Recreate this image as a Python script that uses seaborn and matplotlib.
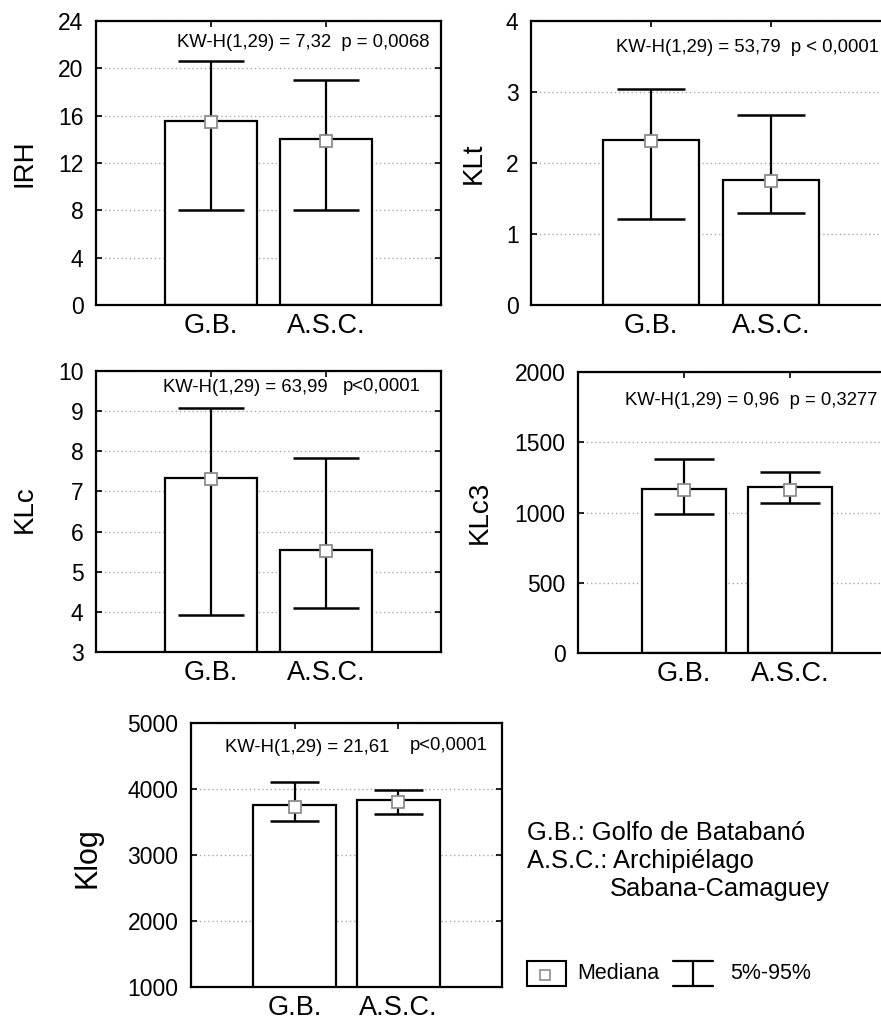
import numpy as np
import pandas as pd
import matplotlib
matplotlib.use("Agg")
import matplotlib.pyplot as plt
from matplotlib.patches import Rectangle
from matplotlib.lines import Line2D
import seaborn as sns

sns.set_style("white")
plt.rcParams['font.family'] = ['Liberation Sans', 'DejaVu Sans']
plt.rcParams['text.color'] = 'black'
plt.rcParams['axes.labelcolor'] = 'black'
plt.rcParams['xtick.color'] = 'black'
plt.rcParams['ytick.color'] = 'black'

sites = ["G.B.", "A.S.C."]

irh_mean = [15.55, 14.0]
irh_median = [15.5, 13.9]
irh_p5 = [8.0, 8.0]
irh_p95 = [20.6, 19.0]

klt_mean = [2.32, 1.76]
klt_median = [2.31, 1.74]
klt_p5 = [1.21, 1.29]
klt_p95 = [3.04, 2.67]

klc_mean = [7.34, 5.55]
klc_median = [7.32, 5.52]
klc_p5 = [3.91, 4.09]
klc_p95 = [9.09, 7.83]

klc3_mean = [1168, 1183]
klc3_median = [1159, 1159]
klc3_p5 = [988, 1071]
klc3_p95 = [1384, 1290]

klog_mean = [3757, 3838]
klog_median = [3732, 3808]
klog_p5 = [3519, 3620]
klog_p95 = [4101, 3990]

W, H = 881, 1021
fig = plt.figure(figsize=(W / 100, H / 100), dpi=100)


def px_axes(left, top, right, bottom):
    return fig.add_axes([left / W, 1 - bottom / H, (right - left) / W, (bottom - top) / H])


panels = [
    dict(box=(96, 21, 441, 305), name="IRH", mean=irh_mean, med=irh_median, lo=irh_p5, hi=irh_p95,
         ylim=(0, 24), ticks=np.arange(0, 25, 4), capw=0.57, lab=(-0.206, 0.5), labsize=20,
         texts=[(0.235, 0.926, "KW-H(1,29) = 7,32  p = 0,0068")]),
    dict(box=(531, 21, 891, 305), name="KLt", mean=klt_mean, med=klt_median, lo=klt_p5, hi=klt_p95,
         ylim=(0, 4), ticks=np.arange(0, 5, 1), capw=0.57, lab=(-0.158, 0.5), labsize=20,
         texts=[(0.235, 0.905, "KW-H(1,29) = 53,79  p < 0,0001")]),
    dict(box=(96, 371, 441, 652), name="KLc", mean=klc_mean, med=klc_median, lo=klc_p5, hi=klc_p95,
         ylim=(3, 10), ticks=np.arange(3, 11, 1), capw=0.57, lab=(-0.206, 0.51), labsize=20,
         texts=[(0.195, 0.94, "KW-H(1,29) = 63,99"), (0.715, 0.945, "p<0,0001")]),
    dict(box=(578, 372, 896, 653), name="KLc3", mean=klc3_mean, med=klc3_median, lo=klc3_p5, hi=klc3_p95,
         ylim=(0, 2000), ticks=np.arange(0, 2001, 500), capw=0.57, lab=(-0.309, 0.5), labsize=20,
         texts=[(0.148, 0.897, "KW-H(1,29) = 0,96  p = 0,3277")]),
    dict(box=(191, 723, 502, 987), name="Klog", mean=klog_mean, med=klog_median, lo=klog_p5, hi=klog_p95,
         ylim=(1000, 5000), ticks=np.arange(1000, 5001, 1000), capw=0.47, lab=(-0.334, 0.49), labsize=22,
         texts=[(0.109, 0.909, "KW-H(1,29) = 21,61"), (0.704, 0.915, "p<0,0001")]),
]

for p in panels:
    ax = px_axes(*p["box"])
    df = pd.DataFrame({"site": sites, "mean": p["mean"]})
    sns.barplot(data=df, x="site", y="mean", color="white", edgecolor="black",
                linewidth=1.6, width=0.8, errorbar=None, ax=ax, zorder=2)
    for b in ax.patches:
        b.set_facecolor("white")
    x = np.arange(len(sites))
    ax.vlines(x, p["lo"], p["hi"], color="black", lw=1.6, zorder=3)
    for yv in (p["lo"], p["hi"]):
        ax.hlines(yv, x - p["capw"] / 2, x + p["capw"] / 2, color="black", lw=1.8, zorder=3)
    ax.plot(x, p["med"], "s", ms=9, mfc="white", mec="#8c8c8c", mew=1.3, zorder=4)
    ax.set_xlim(-1, 2)
    ax.set_ylim(*p["ylim"])
    ax.set_yticks(p["ticks"])
    ax.set_yticklabels([str(int(t)) for t in p["ticks"]])
    ax.set_axisbelow(True)
    ax.yaxis.grid(True, linestyle=(0, (1, 2)), color="#aaaaaa", lw=1.0)
    ax.xaxis.grid(False)
    for s in ax.spines.values():
        s.set_visible(True)
        s.set_color("black")
        s.set_linewidth(1.6)
    ax.tick_params(axis="y", direction="in", length=4, width=1.2, left=True, right=True,
                   labelsize=16.5, pad=9, colors="black")
    ax.tick_params(axis="x", direction="in", length=4, width=1.2, bottom=True, top=True,
                   labelsize=19.5, pad=6, colors="black")
    ax.set_xlabel("")
    ax.set_ylabel(p["name"], fontsize=p["labsize"], va="center", color="black")
    ax.yaxis.set_label_coords(*p["lab"])
    for tx, ty, s in p["texts"]:
        ax.text(tx, ty, s, transform=ax.transAxes, ha="left", va="center", fontsize=13.3, color="black")


def fx(v):
    return v / W


def fy(v):
    return 1 - v / H


def_size = 18.4
leg_size = 15.5
fig.text(fx(527), fy(833), "G.B.: Golfo de Batabanó", ha="left", va="center", fontsize=def_size)
fig.text(fx(527), fy(861), "A.S.C.: Archipiélago", ha="left", va="center", fontsize=def_size)
fig.text(fx(610), fy(889), "Sabana-Camaguey", ha="left", va="center", fontsize=def_size)

fig.add_artist(Rectangle((fx(527), fy(986)), fx(566) - fx(527), fy(961) - fy(986),
                         transform=fig.transFigure, facecolor="white", edgecolor="black", lw=1.5))
fig.add_artist(Line2D([fx(545)], [fy(975)], marker="s", ms=7, mfc="white", mec="#8c8c8c", mew=1.2,
                      transform=fig.transFigure))
fig.text(fx(577), fy(973), "Mediana", ha="left", va="center", fontsize=leg_size)
fig.add_artist(Line2D([fx(673), fx(713)], [fy(961), fy(961)], color="black", lw=1.6, transform=fig.transFigure))
fig.add_artist(Line2D([fx(673), fx(713)], [fy(986), fy(986)], color="black", lw=1.6, transform=fig.transFigure))
fig.add_artist(Line2D([fx(693), fx(693)], [fy(961), fy(986)], color="black", lw=1.6, transform=fig.transFigure))
fig.text(fx(730), fy(973), "5%-95%", ha="left", va="center", fontsize=leg_size)

fig.savefig("out.png", dpi=100, facecolor="white")
